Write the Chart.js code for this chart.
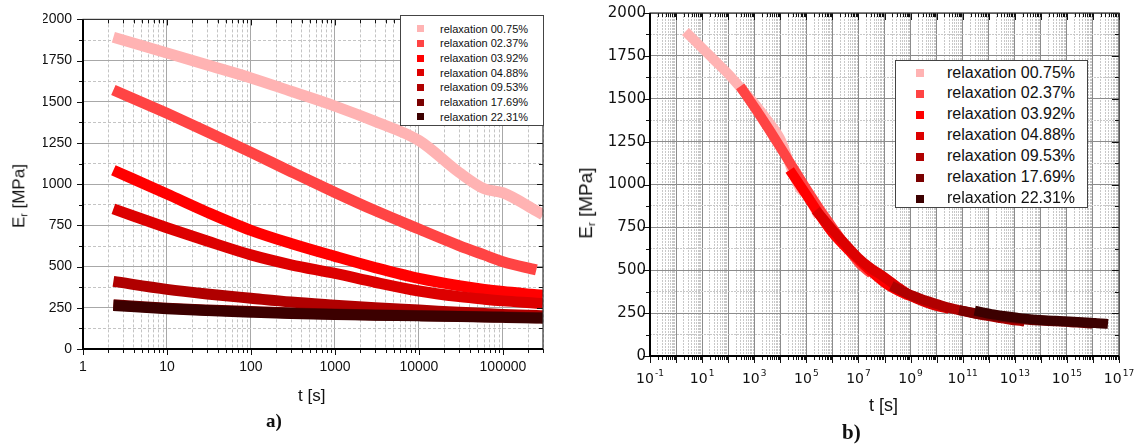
<!DOCTYPE html>
<html>
<head>
<meta charset="utf-8">
<title>Relaxation modulus</title>
<script src="https://cdn.jsdelivr.net/npm/chart.js@4.4.1/dist/chart.umd.min.js"></script>
<style>
  html, body { margin: 0; padding: 0; background: #fff; }
  body { position: relative; width: 1135px; height: 445px; overflow: hidden;
         font-family: "Liberation Sans", Arial, sans-serif; color: #111; }
  canvas { position: absolute; top: 0; }
  #chartA { left: 0; }
  #chartB { left: 560px; }
  .label { position: absolute; white-space: nowrap; line-height: 1; }
  .ytitle { transform: translate(-50%, -50%) rotate(-90deg); }
  .ytitle sub { font-size: 0.6em; vertical-align: -0.3em; }
  .panel { font-family: "Liberation Serif", "Times New Roman", serif; font-weight: bold; }
  .legend { position: absolute; background: #fff; border: 1px solid #444; box-sizing: border-box; }
  .legend .row { position: absolute; left: 0; white-space: nowrap; }
  .legend .sw { position: absolute; }
</style>
</head>
<body>
<canvas id="chartA" width="560" height="445"></canvas>
<canvas id="chartB" width="575" height="445"></canvas>
<div id="legendA" class="legend" style="left:400px; top:15px; width:144px; height:111px;"></div>
<div id="legendB" class="legend" style="left:895px; top:60px; width:193px; height:148px;"></div>
<div class="label ytitle" style="left:20px; top:196px; font-size:17px;">E<sub>r</sub> [MPa]</div>
<div class="label ytitle" style="left:587px; top:203px; font-size:19px;">E<sub>r</sub> [MPa]</div>
<div class="label" style="left:298px; top:387px; font-size:17px;">t [s]</div>
<div class="label" style="left:869px; top:396px; font-size:18px;">t [s]</div>
<div class="label panel" style="left:266px; top:411px; font-size:19px;">a)</div>
<div class="label panel" style="left:842px; top:422px; font-size:21px;">b)</div>
<script>
const seriesLabels = [
  "relaxation 00.75%",
  "relaxation 02.37%",
  "relaxation 03.92%",
  "relaxation 04.88%",
  "relaxation 09.53%",
  "relaxation 17.69%",
  "relaxation 22.31%",
];
const seriesColors = ["#ffb3b3", "#ff4444", "#ff0000", "#dd0000", "#b00000", "#7a0000", "#3c0000"];

// time [s] of the read points (panel a)
const times = [2.3, 10, 30, 100, 300, 1000, 3000, 10000, 30000, 60000, 100000, 250000, 300000];

// relaxation modulus Er [MPa] at those times
const er0075 = [1892, 1796, 1724, 1645, 1564, 1474, 1381, 1265, 1072, 972, 948, 838, 815];
const er0237 = [1572, 1430, 1319, 1193, 1076, 950, 840, 728, 628, 571, 530, 480, null];
const er0392 = [1085, 940, 830, 720, 640, 562, 494, 428, 384, 362, 349, 330, 326];
const er0488 = [850, 736, 655, 571, 511, 459, 405, 352, 318, 302, 292, 278, 275];
const er0953 = [410, 362, 334, 308, 285, 266, 250, 236, 223, 215, 210, 203, 201];
const er1769 = [268, 248, 237, 227, 219, 212, 207, 203, 199, 196, 194, 190, 189];
const er2231 = [264, 244, 233, 223, 215, 209, 205, 201, 197, 194, 192, 188, 187];

// log10 of the time shift of each curve in panel b
const shiftLog = [0, 2.1, 4.0, 5.0, 7.9, 10.5, 11.1];

const yTicksStep = 125;
const modulus = [er0075, er0237, er0392, er0488, er0953, er1769, er2231];

function isDecade(v) {
  const l = Math.log10(v);
  return Math.abs(l - Math.round(l)) < 1e-6;
}

function logTicks(min, max) {
  const ticks = [];
  for (let e = Math.floor(Math.log10(min)); e <= Math.ceil(Math.log10(max)); e++) {
    for (let m = 1; m <= 9; m++) {
      const v = m * Math.pow(10, e);
      if (v >= min * 0.999999 && v <= max * 1.000001) ticks.push({ value: v, major: m === 1 });
    }
  }
  return ticks;
}

function makeDatasets(shifted, width) {
  return seriesLabels.map((label, i) => ({
    label,
    data: times
      .map((t, j) => ({ x: shifted ? t * Math.pow(10, shiftLog[i]) : t, y: modulus[i][j] }))
      .filter((p) => p.y !== null),
    borderColor: seriesColors[i],
    backgroundColor: seriesColors[i],
    borderWidth: width,
    pointRadius: 0,
    showLine: true,
    cubicInterpolationMode: "monotone",
    borderCapStyle: "butt",
    clip: 0,
    order: seriesLabels.length - i,
  }));
}

const framePlugin = {
  id: "frame",
  afterDraw(chart, args, opts) {
    const { ctx, chartArea: a, scales } = chart;
    const x = scales.x, y = scales.y;
    ctx.save();
    ctx.strokeStyle = "#111";
    ctx.lineWidth = 1;
    ctx.beginPath();
    x.ticks.forEach((t) => {
      const px = Math.round(x.getPixelForValue(t.value)) + 0.5;
      const len = t.major ? opts.major : opts.minor;
      ctx.moveTo(px, a.bottom);
      ctx.lineTo(px, a.bottom + len);
      ctx.moveTo(px, a.top);
      ctx.lineTo(px, a.top + len);
    });
    y.ticks.forEach((t) => {
      const py = Math.round(y.getPixelForValue(t.value)) + 0.5;
      const len = t.value % 250 === 0 ? opts.major : opts.minor;
      ctx.moveTo(a.left, py);
      ctx.lineTo(a.left - len, py);
      ctx.moveTo(a.right, py);
      ctx.lineTo(a.right - len, py);
    });
    ctx.stroke();
    ctx.lineWidth = 1.2;
    ctx.strokeStyle = "#333";
    ctx.strokeRect(a.left, a.top, a.right - a.left, a.bottom - a.top);
    ctx.lineWidth = 2;
    ctx.strokeStyle = "#000";
    ctx.beginPath();
    ctx.moveTo(a.left, a.top);
    ctx.lineTo(a.left, a.bottom);
    ctx.lineTo(a.right, a.bottom);
    ctx.stroke();
    ctx.restore();
  },
};

// labels 10^n on panel b, exponent raised
const powerLabels = {
  id: "powerLabels",
  afterDraw(chart, args, opts) {
    if (!opts.enabled) return;
    const { ctx, chartArea: a, scales } = chart;
    const x = scales.x;
    ctx.save();
    ctx.fillStyle = "#111";
    ctx.textBaseline = "alphabetic";
    ctx.textAlign = "left";
    x.ticks.forEach((t) => {
      if (!t.major) return;
      const e = Math.round(Math.log10(t.value));
      if (Math.abs(e % 2) !== 1) return;
      const sup = String(e);
      ctx.font = '14px "DejaVu Sans"';
      const wb = ctx.measureText("10").width;
      ctx.font = '9px "DejaVu Sans"';
      const ws = ctx.measureText(sup).width;
      const x0 = x.getPixelForValue(t.value) - (wb + ws + 1) / 2;
      ctx.font = '14px "DejaVu Sans"';
      ctx.fillText("10", x0, a.bottom + 27);
      ctx.font = '9px "DejaVu Sans"';
      ctx.fillText(sup, x0 + wb + 1, a.bottom + 20);
    });
    ctx.restore();
  },
};

function makeOptions(cfg) {
  return {
    responsive: false,
    animation: false,
    layout: { padding: cfg.padding },
    plugins: {
      legend: { display: false },
      tooltip: { enabled: false },
      frame: { major: cfg.tickMajor, minor: cfg.tickMinor },
      powerLabels: { enabled: cfg.powerLabels },
    },
    scales: {
      x: {
        type: "logarithmic",
        min: cfg.xMin,
        max: cfg.xMax,
        afterBuildTicks: (s) => { s.ticks = logTicks(cfg.xMin, cfg.xMax); },
        afterFit: (s) => { s.height = cfg.xAxisHeight; },
        grid: {
          drawTicks: false,
          lineWidth: 1,
          color: (c) => (c.tick && isDecade(c.tick.value) ? cfg.majorColor : cfg.minorColor),
        },
        border: {
          display: false,
          dash: (c) => (c.tick && isDecade(c.tick.value) ? [] : cfg.minorDash),
        },
        ticks: {
          display: !cfg.powerLabels,
          autoSkip: false,
          maxRotation: 0,
          padding: 10,
          color: "#111",
          font: { family: cfg.tickFont, size: cfg.xTickSize },
          callback: (v) => (isDecade(v) ? String(Math.round(v)) : ""),
        },
      },
      y: {
        type: "linear",
        min: 0,
        max: 2000,
        afterFit: (s) => { s.width = cfg.yAxisWidth; },
        grid: {
          drawTicks: false,
          lineWidth: 1,
          color: (c) => (c.tick && c.tick.value % 250 === 0 ? cfg.majorColor : cfg.minorColor),
        },
        border: {
          display: false,
          dash: (c) => (c.tick && c.tick.value % 250 === 0 ? [] : cfg.minorDash),
        },
        ticks: {
          stepSize: yTicksStep,
          autoSkip: false,
          padding: cfg.yPad,
          color: "#111",
          font: { family: cfg.tickFont, size: cfg.yTickSize },
          callback: (v) => (v % 250 === 0 ? String(v) : ""),
        },
      },
    },
  };
}

new Chart(document.getElementById("chartA"), {
  type: "scatter",
  data: { datasets: makeDatasets(false, 11) },
  options: makeOptions({
    padding: { left: 43, right: 17, top: 12, bottom: 56 },
    xMin: 1, xMax: 300000,
    xAxisHeight: 40, yAxisWidth: 40,
    majorColor: "#a8a8a8", minorColor: "#c4c4c4", minorDash: [3, 2],
    tickFont: "Liberation Sans", xTickSize: 14, yTickSize: 14, yPad: 11,
    tickMajor: 6, tickMinor: 4, powerLabels: false,
  }),
  plugins: [framePlugin, powerLabels],
});

new Chart(document.getElementById("chartB"), {
  type: "scatter",
  data: { datasets: makeDatasets(true, 10) },
  options: makeOptions({
    padding: { left: 45, right: 16, top: 12, bottom: 49 },
    xMin: 0.1, xMax: 1e17,
    xAxisHeight: 40, yAxisWidth: 45,
    majorColor: "#8c8c8c", minorColor: "#c8c8c8", minorDash: [2, 1],
    tickFont: "DejaVu Sans", xTickSize: 14, yTickSize: 15, yPad: 4,
    tickMajor: 7, tickMinor: 4, powerLabels: true,
  }),
  plugins: [framePlugin, powerLabels],
});

function buildLegend(id, cfg) {
  const box = document.getElementById(id);
  seriesLabels.forEach((label, i) => {
    const row = document.createElement("div");
    row.className = "row";
    row.style.top = cfg.first + i * cfg.step - cfg.step / 2 + "px";
    row.style.height = cfg.step + "px";
    row.style.width = "100%";
    const sw = document.createElement("span");
    sw.className = "sw";
    sw.style.left = cfg.swLeft + "px";
    sw.style.top = (cfg.step - cfg.sw) / 2 + "px";
    sw.style.width = cfg.sw + "px";
    sw.style.height = cfg.sw + "px";
    sw.style.background = seriesColors[i];
    const txt = document.createElement("span");
    txt.textContent = label;
    txt.style.position = "absolute";
    txt.style.left = cfg.textLeft + "px";
    txt.style.fontSize = cfg.size + "px";
    txt.style.lineHeight = cfg.step + "px";
    row.appendChild(sw);
    row.appendChild(txt);
    box.appendChild(row);
  });
}

buildLegend("legendA", { first: 13, step: 14.65, swLeft: 16, sw: 7, textLeft: 39, size: 11 });
buildLegend("legendB", { first: 12, step: 20.95, swLeft: 20, sw: 8, textLeft: 51, size: 16 });
</script>
</body>
</html>
